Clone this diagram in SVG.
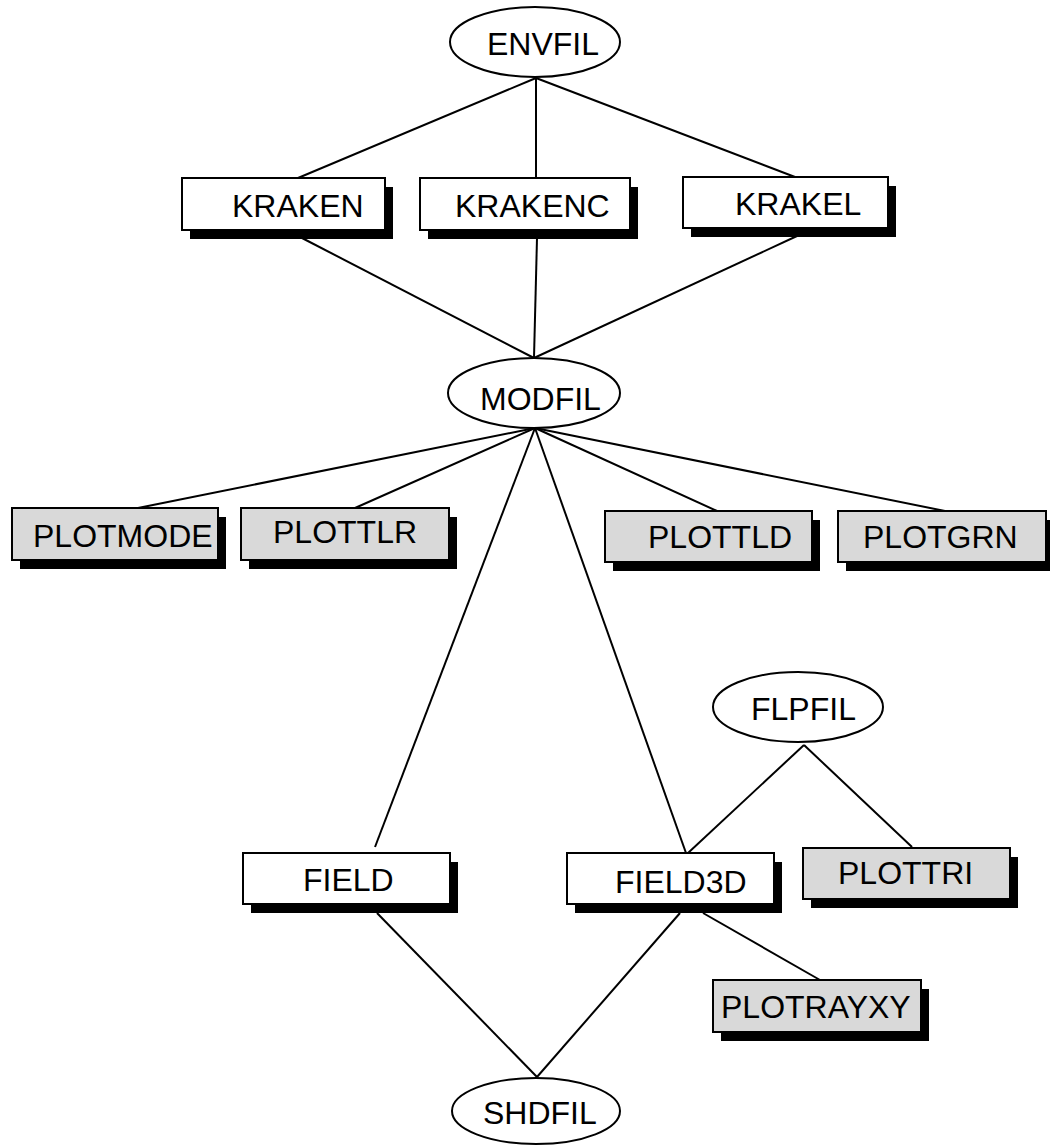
<svg xmlns="http://www.w3.org/2000/svg" width="1050" height="1146" viewBox="0 0 1050 1146">
<style>
.el{fill:#fff;stroke:#000;stroke-width:2}
.bx{fill:#fff;stroke:#000;stroke-width:2}
.gy{fill:#d9d9d9;stroke:#000;stroke-width:2}
.sh{fill:#000}
.t{font-family:"Liberation Sans",Arial,sans-serif;font-size:32px;fill:#000}
.c line{stroke:#000;stroke-width:2}
</style>
<rect width="1050" height="1146" fill="#fff"/>
<g class="c" id="connectors">
<line x1="536" y1="78" x2="298" y2="178"/>
<line x1="536" y1="78" x2="536" y2="178"/>
<line x1="536" y1="78" x2="795" y2="177"/>
<line x1="302" y1="238" x2="534" y2="358"/>
<line x1="537" y1="238" x2="534" y2="358"/>
<line x1="797" y1="236" x2="534" y2="358"/>
<line x1="535" y1="428" x2="138" y2="508"/>
<line x1="535" y1="428" x2="355" y2="508"/>
<line x1="535" y1="428" x2="375" y2="847"/>
<line x1="535" y1="428" x2="686" y2="853"/>
<line x1="535" y1="428" x2="717" y2="511"/>
<line x1="535" y1="428" x2="945" y2="511"/>
<line x1="804" y1="745" x2="688" y2="853"/>
<line x1="804" y1="745" x2="912" y2="847"/>
<line x1="377" y1="913" x2="537" y2="1077"/>
<line x1="680" y1="913" x2="537" y2="1077"/>
<line x1="703" y1="913" x2="820" y2="980"/>
</g>
<g id="ENVFIL"><ellipse class="el" cx="535" cy="42" rx="85" ry="35"/><text class="t" x="487" y="55">ENVFIL</text></g>
<g id="KRAKEN"><rect class="sh" x="190" y="187" width="203" height="52"/><rect class="bx" x="182" y="178" width="203" height="52"/><text class="t" x="232" y="217">KRAKEN</text></g>
<g id="KRAKENC"><rect class="sh" x="428" y="187" width="210" height="52"/><rect class="bx" x="420" y="178" width="210" height="52"/><text class="t" x="455" y="217">KRAKENC</text></g>
<g id="KRAKEL"><rect class="sh" x="691" y="186" width="205" height="51"/><rect class="bx" x="683" y="177" width="205" height="51"/><text class="t" x="735" y="215">KRAKEL</text></g>
<g id="MODFIL"><ellipse class="el" cx="534" cy="393" rx="86" ry="35"/><text class="t" x="480" y="410">MODFIL</text></g>
<g id="PLOTMODE"><rect class="sh" x="20" y="517" width="206" height="52"/><rect class="gy" x="12" y="508" width="206" height="52"/><text class="t" x="33" y="547">PLOTMODE</text></g>
<g id="PLOTTLR"><rect class="sh" x="249" y="517" width="208" height="52"/><rect class="gy" x="241" y="508" width="208" height="52"/><text class="t" x="273" y="543">PLOTTLR</text></g>
<g id="PLOTTLD"><rect class="sh" x="613" y="520" width="207" height="51"/><rect class="gy" x="605" y="511" width="207" height="51"/><text class="t" x="648" y="548">PLOTTLD</text></g>
<g id="PLOTGRN"><rect class="sh" x="846" y="520" width="208" height="51"/><rect class="gy" x="838" y="511" width="208" height="51"/><text class="t" x="863" y="548">PLOTGRN</text></g>
<g id="FLPFIL"><ellipse class="el" cx="798" cy="707" rx="85" ry="35"/><text class="t" x="751" y="720">FLPFIL</text></g>
<g id="FIELD"><rect class="sh" x="251" y="862" width="207" height="51"/><rect class="bx" x="243" y="853" width="207" height="51"/><text class="t" x="303" y="891">FIELD</text></g>
<g id="FIELD3D"><rect class="sh" x="575" y="862" width="207" height="51"/><rect class="bx" x="567" y="853" width="207" height="51"/><text class="t" x="615" y="893">FIELD3D</text></g>
<g id="PLOTTRI"><rect class="sh" x="811" y="857" width="207" height="51"/><rect class="gy" x="803" y="848" width="207" height="51"/><text class="t" x="838" y="884">PLOTTRI</text></g>
<g id="PLOTRAYXY"><rect class="sh" x="721" y="989" width="208" height="52"/><rect class="gy" x="713" y="980" width="208" height="52"/><text class="t" x="721" y="1018">PLOTRAYXY</text></g>
<g id="SHDFIL"><ellipse class="el" cx="536" cy="1111" rx="84" ry="33"/><text class="t" x="483" y="1124">SHDFIL</text></g>
</svg>
